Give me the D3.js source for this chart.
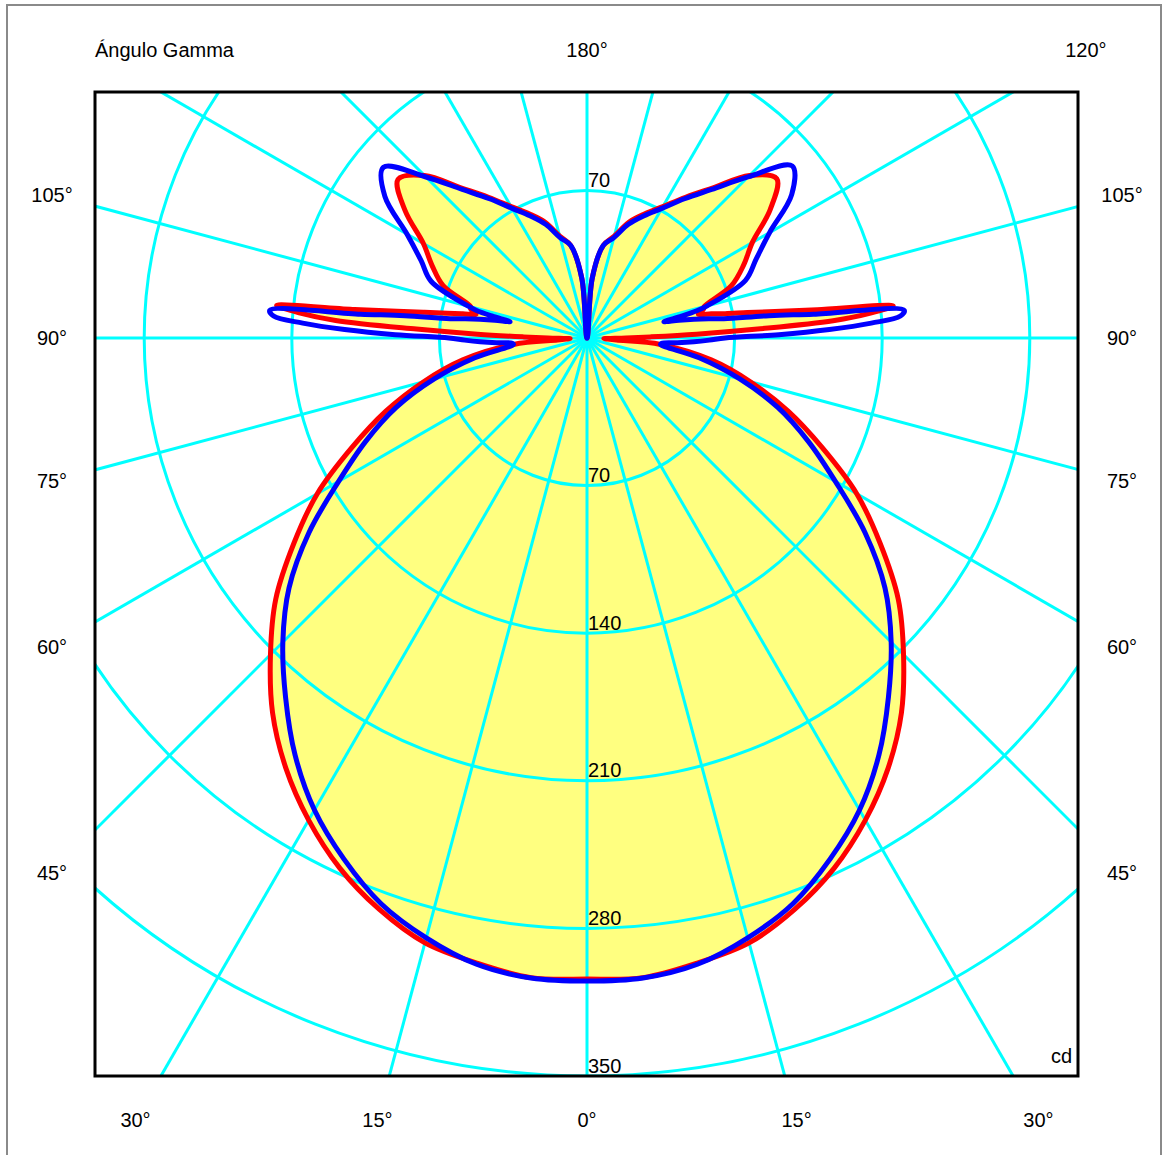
<!DOCTYPE html>
<html><head><meta charset="utf-8">
<script src="https://cdn.jsdelivr.net/npm/d3@7"></script>
<style>
body{margin:0;background:#fff}
svg{display:block}
text{font-family:"Liberation Sans",Arial,Helvetica,sans-serif;font-size:20px;fill:#000}
</style>
</head><body>
<svg id="c" width="1165" height="1155"></svg>
<script>
// Gamma angles (degrees, 0 = straight down, 180 = straight up)
const gammaDeg = [0,5,10,15,20,25,30,35,40,45,50,55,60,65,70,75,80,85,
  86,87,88,89,90,91,92,93,94,95,96,97,98,99,100,101,102,103,104,
  105,110,115,120,125,130,135,140,145,150,155,160,165,170,175,180];

// Luminous intensity (cd) – red curve, left half of the diagram
const redLeft = [304,304.5,301,297,288.3,277.4,264,249,232,212.3,192.7,169.7,147.7,123.1,101.5,80.2,59.8,35,
  14,9.8,8,11,18.5,30,52,81,119.5,137,148,111,91,78,67.3,60,53.8,55,56.9,
  57,72.6,81,89.6,105.3,117,109,93,81.5,72,65,58.5,50,44.6,28.5,0];
// red curve, right half
const redRight = [304,304.5,301,297,288.3,277.4,264,249,232,212.3,192.7,169.7,147.7,123.1,101.5,80.2,59.8,35,
  14,9.8,8,11,18.5,30,52,81,117,135,146,110,90,77,66.5,60,54,55,57,
  57.5,73,82,90.5,106,117.5,109,93,81.5,72,65,58.5,50,44.6,28.5,0];
// blue curve, left half
const blueLeft = [305,304.7,301.6,294.5,285.5,272.7,258.5,241.4,222.4,204,184.5,161,136,115.7,96.3,75,54,35,
  35.5,43,50.7,58,65.5,91,115,135,149,151,108,87,65.6,58.5,51.5,44.4,37.3,46,54,
  58.3,78.7,86.8,98.6,117,126,108,92,80.6,71,64,57.4,49.3,44.6,28.5,0];
// blue curve, right half
const blueRight = [305,304.7,301.6,294.5,285.5,272.7,258.5,241.4,222.4,204,184.5,161,136,115.7,96.3,75,54,35,
  35.5,43,50.7,58,65.5,91,115,135,149,151,108,87,65.6,58.5,51.5,44.4,37.3,46,54,
  59,80,88.5,100,118.5,127,108,92,80.6,71,64,57.4,49.3,44.6,28.5,0];

const radialTicks = [70,140,210,280,350];
const spokeGamma = [0,15,30,45,60,75,90,105,120,135,150,165,180,195,210,225,240,255,270,285,300,315,330,345];
const labelsLeft = [15,30,45,60,75,90,105];
const labelsRight = [15,30,45,60,75,90,105,120];
const labelsAxis = [0,180];

// ---------- layout ----------
const frame = {x0:95, y0:92, x1:1078, y1:1076};
const cx = 587, cy = 338;
const labelBox = {x0:52, x1:1122, y0:50, y1:1120};
const rad = Math.PI/180;

const r = d3.scaleLinear().domain([0,350]).range([0, frame.y1 - cy]);

const svg = d3.select('#c');
svg.append('rect').attr('x',7).attr('y',5).attr('width',1154).attr('height',1180)
  .attr('fill','none').attr('stroke','#8a8a8a').attr('stroke-width',2);

svg.append('defs').append('clipPath').attr('id','clip').append('rect')
  .attr('x',frame.x0).attr('y',frame.y0).attr('width',frame.x1-frame.x0).attr('height',frame.y1-frame.y0);

const g = svg.append('g').attr('clip-path','url(#clip)');
const plot = g.append('g').attr('transform',`translate(${cx},${cy})`);

function ring(left, right){
  const pts = [];
  for (let i = gammaDeg.length-1; i >= 0; i--) pts.push({a: Math.PI + gammaDeg[i]*rad, v: left[i]});
  for (let i = 1; i < gammaDeg.length-1; i++) pts.push({a: Math.PI - gammaDeg[i]*rad, v: right[i]});
  return pts;
}
const line = d3.lineRadial().angle(d=>d.a).radius(d=>r(d.v))
  .curve(d3.curveCatmullRomClosed.alpha(0.5));

// yellow fill (red curve)
plot.append('path').attr('d', line(ring(redLeft, redRight))).attr('fill','#ffff80').attr('stroke','none');

// grid
plot.selectAll('circle.grid').data(radialTicks).join('circle').attr('class','grid')
  .attr('r', d=>r(d)).attr('fill','none').attr('stroke','#00ffff').attr('stroke-width',3);
const far = r(600);
plot.selectAll('line.spoke').data(spokeGamma).join('line').attr('class','spoke')
  .attr('x1',0).attr('y1',0)
  .attr('x2', d=>Math.sin(d*rad)*far).attr('y2', d=>Math.cos(d*rad)*far)
  .attr('stroke','#00ffff').attr('stroke-width',3);

// curves
plot.append('path').attr('d', line(ring(redLeft, redRight)))
  .attr('fill','none').attr('stroke','#ff0000').attr('stroke-width',5).attr('stroke-linejoin','round');
plot.append('path').attr('d', line(ring(blueLeft, blueRight)))
  .attr('fill','none').attr('stroke','#0000ff').attr('stroke-width',5).attr('stroke-linejoin','round');

// frame
svg.append('rect').attr('x',frame.x0).attr('y',frame.y0)
  .attr('width',frame.x1-frame.x0).attr('height',frame.y1-frame.y0)
  .attr('fill','none').attr('stroke','#000').attr('stroke-width',3);

// radial value labels
const radLabels = [];
radialTicks.forEach(v=>{
  radLabels.push({v, y: cy + r(v) - 10.5});
  if (cy - r(v) - 10.5 > frame.y0) radLabels.push({v, y: cy - r(v) - 10.5});
});
svg.selectAll('text.rl').data(radLabels).join('text').attr('class','rl')
  .attr('x', cx+1).attr('y', d=>d.y).attr('dy','0.35em').text(d=>d.v);

// angle labels on the outer box
function boxPoint(dx, dy){
  let t = Infinity;
  if (dx > 1e-9) t = Math.min(t, (labelBox.x1-cx)/dx);
  if (dx < -1e-9) t = Math.min(t, (cx-labelBox.x0)/(-dx));
  if (dy > 1e-9) t = Math.min(t, (labelBox.y1-cy)/dy);
  if (dy < -1e-9) t = Math.min(t, (cy-labelBox.y0)/(-dy));
  return [cx+dx*t, cy+dy*t];
}
const angLabels = [];
labelsLeft.forEach(a=>{ const p = boxPoint(-Math.sin(a*rad), Math.cos(a*rad)); angLabels.push({a, p}); });
labelsRight.forEach(a=>{ const p = boxPoint(Math.sin(a*rad), Math.cos(a*rad)); angLabels.push({a, p}); });
labelsAxis.forEach(a=>{ const p = boxPoint(0, Math.cos(a*rad)); angLabels.push({a, p}); });
svg.selectAll('text.al').data(angLabels).join('text').attr('class','al')
  .attr('x', d=>d.p[0]).attr('y', d=>d.p[1]).attr('dy','0.35em').attr('text-anchor','middle')
  .text(d=>d.a + '°');

svg.append('text').attr('x', frame.x0).attr('y', labelBox.y0).attr('dy','0.35em').text('Ángulo Gamma');
svg.append('text').attr('x', frame.x1-6).attr('y', frame.y1-20).attr('dy','0.35em').attr('text-anchor','end').text('cd');
</script>
</body></html>
